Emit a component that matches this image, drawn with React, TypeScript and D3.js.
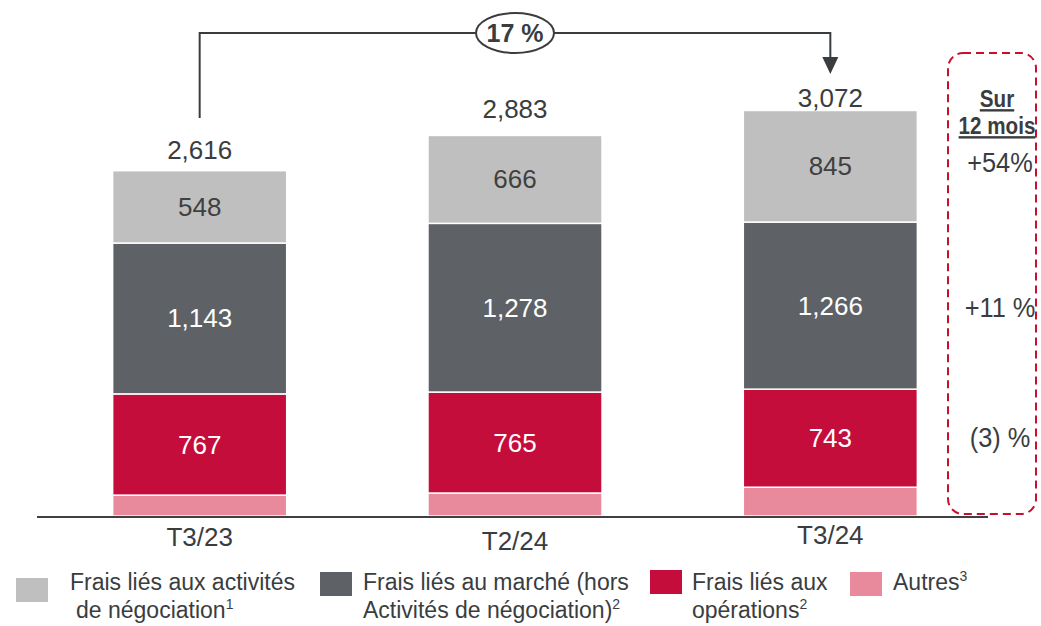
import React from "react";
import * as d3 from "d3";

const categories = ["T3/23", "T2/24", "T3/24"];
const autres = [158, 174, 218];
const operations = [767, 765, 743];
const marche = [1143, 1278, 1266];
const negociation = [548, 666, 845];
const totals = ["2,616", "2,883", "3,072"];
const growthLabels = ["+54%", "+11 %", "(3) %"];
const growthTitle = ["Sur", "12 mois"];
const bracketLabel = "17 %";

const seriesKeys = ["autres", "operations", "marche", "negociation"];
const seriesColors: Record<string, string> = {
  autres: "#E98A9C",
  operations: "#C50D3C",
  marche: "#5E6266",
  negociation: "#BFBFBF",
};
const labelColors: Record<string, string | null> = {
  autres: null,
  operations: "#FFFFFF",
  marche: "#FFFFFF",
  negociation: "#404040",
};

const FONT = "'Liberation Sans', Arial, Helvetica, sans-serif";
const DARK = "#3A3D40";

export default function App() {
  const W = 1041;
  const H = 626;
  const baseY = 516;

  const rows = categories.map((c, i) => ({
    cat: c,
    autres: autres[i],
    operations: operations[i],
    marche: marche[i],
    negociation: negociation[i],
  }));

  const stack = d3.stack<any>().keys(seriesKeys);
  const stacked = stack(rows);

  const x = d3
    .scaleBand<string>()
    .domain(categories)
    .range([42, 988])
    .paddingInner(0.448)
    .paddingOuter(0.224);
  const y = d3.scaleLinear().domain([0, 3000]).range([baseY, 120]);

  const bw = x.bandwidth();
  const cx = (c: string) => (x(c) as number) + bw / 2;

  const topOf = (i: number) => y(stacked[stacked.length - 1][i][1]);

  // bracket
  const leftX = cx(categories[0]);
  const rightX = cx(categories[2]);
  const bracketY = 33;
  const midX = (leftX + rightX) / 2;

  const labelDy = [0, 4, -2];
  const totalGap = [12, 17, 3];

  const legend = [
    { key: "negociation", sx: 16, sy: 578, tx: 70, lines: [["Frais liés aux activités", ""], ["de négociation", "1"]], l2x: 76 },
    { key: "marche", sx: 320, sy: 572, tx: 363, lines: [["Frais liés au marché (hors", ""], ["Activités de négociation)", "2"]], l2x: 363 },
    { key: "operations", sx: 650, sy: 570, tx: 692, lines: [["Frais liés aux", ""], ["opérations", "2"]], l2x: 692 },
    { key: "autres", sx: 850, sy: 572, tx: 893, lines: [["Autres", "3"]], l2x: 893 },
  ];

  const growthY = [172, 317, 447];
  const titleY = [107, 134];

  return (
    <svg width={W} height={H} style={{ position: "absolute", left: 0, top: 0 }} fontFamily={FONT}>
      <rect width={W} height={H} fill="#fff" />
      {stacked.map((s) =>
        s.map((d, i) => {
          const key = s.key as string;
          const y0 = y(d[0]);
          const y1 = y(d[1]);
          const c = categories[i];
          const lc = labelColors[key];
          return (
            <g key={key + i}>
              <rect
                x={x(c)}
                y={y1}
                width={bw}
                height={y0 - y1}
                fill={seriesColors[key]}
                stroke="#fff"
                strokeWidth={1.5}
              />
              {lc && (
                <text
                  x={cx(c)}
                  y={(y0 + y1) / 2 + 9}
                  textAnchor="middle"
                  fontSize={26}
                  fill={lc}
                >
                  {d3.format(",")(d[1] - d[0])}
                </text>
              )}
            </g>
          );
        })
      )}
      {/* axis line */}
      <line x1={37} x2={988} y1={baseY + 1} y2={baseY + 1} stroke="#404040" strokeWidth={2} />
      {categories.map((c, i) => (
        <text key={c} x={cx(c)} y={546 + labelDy[i]} textAnchor="middle" fontSize={26} fill={DARK}>
          {c}
        </text>
      ))}
      {totals.map((t, i) => (
        <text key={t} x={cx(categories[i])} y={topOf(i) - totalGap[i]} textAnchor="middle" fontSize={26} fill={DARK}>
          {t}
        </text>
      ))}
      {/* bracket */}
      <path
        d={`M${leftX},118 V${bracketY} H${rightX} V58`}
        fill="none"
        stroke={DARK}
        strokeWidth={2}
      />
      <path d={`M${rightX - 8},57 L${rightX + 8},57 L${rightX},74 Z`} fill={DARK} />
      <ellipse cx={midX} cy={bracketY} rx={39} ry={20} fill="#fff" stroke={DARK} strokeWidth={2} />
      <text x={midX} y={bracketY + 9} textAnchor="middle" fontSize={25} fontWeight="bold" fill={DARK}>
        {bracketLabel}
      </text>
      {/* right box */}
      <rect
        x={948}
        y={53}
        width={88}
        height={461}
        rx={15}
        fill="none"
        stroke="#C8102E"
        strokeWidth={2}
        strokeDasharray="8 5"
      />
      {growthTitle.map((t, i) => (
        <text
          key={t}
          transform={`translate(997,${titleY[i]}) scale(0.86,1)`}
          textAnchor="middle"
          fontSize={24}
          fontWeight="bold"
          fill={DARK}
          textDecoration="underline"
        >
          {t}
        </text>
      ))}
      {growthLabels.map((g, i) => (
        <text
          key={g}
          transform={`translate(1000,${growthY[i]}) scale(0.94,1)`}
          textAnchor="middle"
          fontSize={27}
          fill={DARK}
        >
          {g}
        </text>
      ))}
      {/* legend */}
      {legend.map((l) => (
        <g key={l.key}>
          <rect x={l.sx} y={l.sy} width={32} height={24} fill={seriesColors[l.key]} />
          {l.lines.map((ln, j) => (
            <text key={j} x={j === 0 ? l.tx : l.l2x} y={590 + j * 28} fontSize={23} fill={DARK}>
              {ln[0]}
              {ln[1] && (
                <tspan fontSize={14} dy={-9}>
                  {ln[1]}
                </tspan>
              )}
            </text>
          ))}
        </g>
      ))}
    </svg>
  );
}
